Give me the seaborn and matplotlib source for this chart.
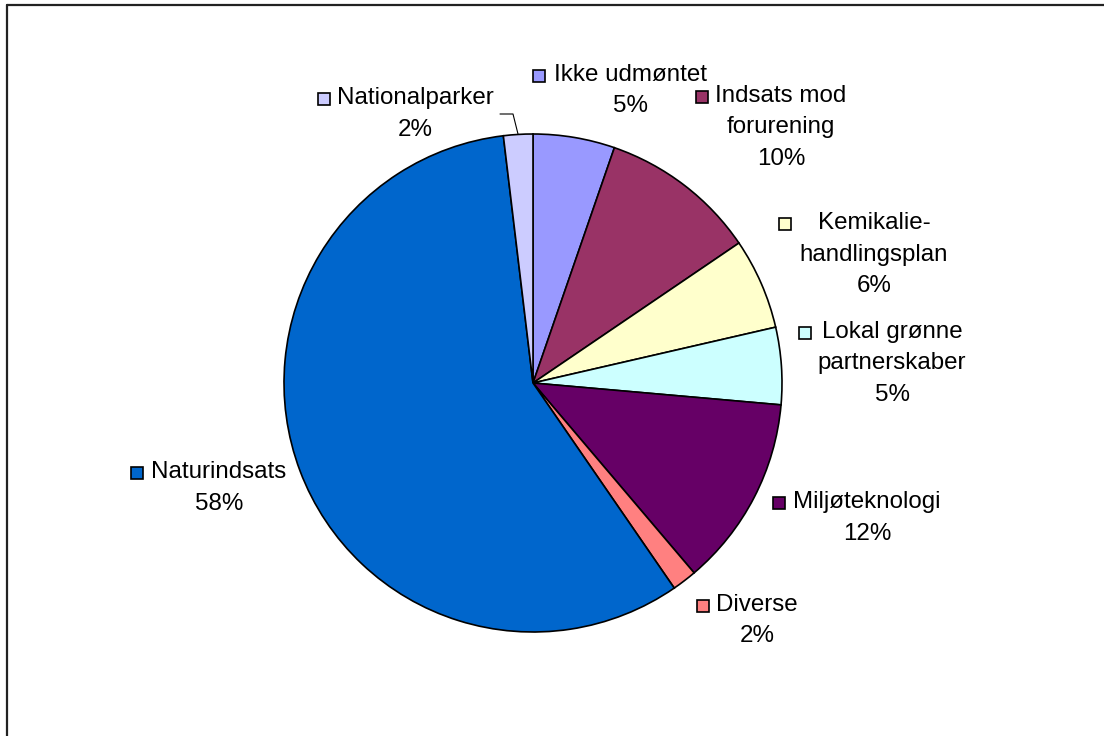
import matplotlib
matplotlib.use("Agg")
import matplotlib.pyplot as plt
from matplotlib.lines import Line2D
import seaborn as sns

# data, clockwise from 12 o'clock
categories = ["Ikke udmøntet", "Indsats mod\nforurening", "Kemikalie-\nhandlingsplan",
              "Lokal grønne\npartnerskaber", "Miljøteknologi", "Diverse",
              "Naturindsats", "Nationalparker"]
shares = [5.3, 10.2, 5.9, 5.0, 12.4, 1.6, 57.7, 1.9]
colors = ["#9999FF", "#993366", "#FFFFCC", "#CCFFFF", "#660066", "#FF8080",
          "#0066CC", "#CCCCFF"]

# label placement in pixels: (text centre x, first line y, marker x)
label_pos = [(631, 75, 539), (781, 96, 702), (874, 223, 785), (892, 332, 805),
             (867, 502, 779), (757, 605, 703), (219, 472, 137), (415, 98, 324)]

W, H = 1104, 736
CX, CY, R = 533, 383, 249


def px(x, y):
    """pixel -> data coords (1 unit = pie radius)"""
    return (x - CX) / R, (CY - y) / R


sns.set_style("white")
plt.rcParams["font.family"] = ["Liberation Sans", "DejaVu Sans"]
plt.rcParams["text.color"] = "black"

fig = plt.figure(figsize=(W / 100, H / 100), dpi=100)
ax = fig.add_axes([0, 0, 1, 1])

ax.pie(shares, colors=sns.color_palette(colors), startangle=90, counterclock=False,
       radius=1, wedgeprops=dict(edgecolor="black", linewidth=1.2))

# pie() resets the limits, so set them afterwards (same scale on both axes)
ax.set_aspect("auto")
ax.set_xlim(-CX / R, (W - CX) / R)
ax.set_ylim(-(H - CY) / R, CY / R)
ax.axis("off")

line_h = 31.5
for name, val, col, (tx, ty, mx) in zip(categories, shares, colors, label_pos):
    lines = name.split("\n") + [f"{round(val)}%"]
    for i, s in enumerate(lines):
        ax.text(*px(tx, ty + i * line_h), s, ha="center", va="center", fontsize=17.4,
                color="black")
    ax.plot(*px(mx, ty + 1), marker="s", markersize=8.5, color=col,
            markeredgecolor="black", markeredgewidth=1.2, linestyle="none")

# leader line for Nationalparker
lx, ly = zip(px(500, 114), px(513, 114), px(518, 134))
ax.plot(lx, ly, color="black", linewidth=0.8)

# chart frame (top and left edge visible)
fig.add_artist(Line2D([7 / W, 1], [1 - 5 / H, 1 - 5 / H], color="#222222", linewidth=1.6))
fig.add_artist(Line2D([7 / W, 7 / W], [0, 1 - 5 / H], color="#222222", linewidth=1.6))

fig.savefig("out.png", dpi=100)
